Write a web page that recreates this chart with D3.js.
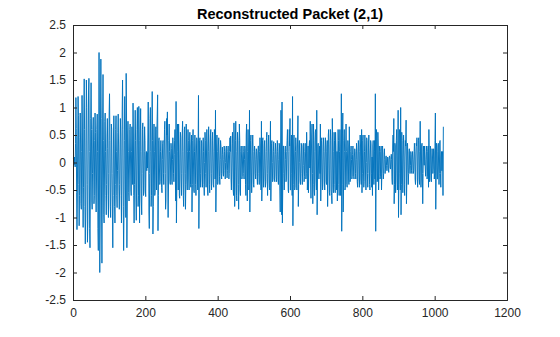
<!DOCTYPE html>
<html>
<head>
<meta charset="utf-8">
<script src="https://cdn.jsdelivr.net/npm/d3@7/dist/d3.min.js"></script>
<style>
  html, body { margin: 0; padding: 0; background: #fff; }
  svg { display: block; }
  text { font-family: "Liberation Sans", Arial, Helvetica, sans-serif; }
</style>
</head>
<body>
<svg id="chart" width="560" height="337"></svg>
<script>
// Reconstructed wavelet packet node (2,1), 1024 samples, in blocks of 128
const block0 = [
  0.08, 0.05, -0.04, 0.1, 0.02, -0.08, 0.35, 1.18, 0.62, -0.55, -1.22, -0.7, 0.3, 1.2, 0.85, -0.4,
  -1.15, -0.6, 0.45, 0.9, 0.3, -0.75, -0.85, 0.2, 1.22, 0.7, -0.5, -1.18, -0.45, 0.9, 1.52, 0.6,
  -0.8, -1.48, -0.9, 0.5, 1.5, 1.0, -0.4, -1.45, -1.1, 0.3, 1.3, 1.53, 0.2, -1.2, -1.55, -0.5,
  0.8, 1.45, 0.6, -0.7, -0.85, -0.2, 0.6, 0.82, 0.1, -0.75, -0.6, 0.4, 0.9, 0.55, -0.5, -0.9,
  -0.3, 0.6, 0.88, 0.2, -1.2, -1.6, 0.3, 2.0, 0.9, -2.0, -1.1, 0.7, 1.88, 0.8, -0.9, -1.83,
  -0.7, 0.9, 1.6, 0.4, -0.95, -1.1, -0.3, 0.75, 0.9, 0.2, -0.6, -0.95, -0.4, 0.5, 0.8, 0.25,
  -0.6, -1.0, -0.2, 0.9, 1.25, 0.4, -0.8, -1.0, -0.3, 0.7, 0.6, -0.2, -0.9, -1.55, -0.6, 0.5,
  0.85, 0.3, -0.8, -1.1, -0.4, 0.6, 0.85, 0.2, -0.6, -0.82, -0.15, 0.55, 0.88, 0.3, -0.5, -0.85
];
const block1 = [
  -0.4, 0.3, 0.8, 0.5, -0.6, -1.1, -0.3, 0.9, 1.5, 0.6, -0.8, -1.6, -0.9, 0.4, 1.2, 0.7,
  -0.5, -1.0, 1.62, 0.9, -1.55, -0.7, 0.5, 0.75, 0.2, -0.55, -0.7, -0.1, 0.6, 0.7, 0.1, -0.5,
  -0.6, 0.2, 0.65, 0.3, -0.4, 1.08, 0.5, -0.6, -1.1, -0.4, 0.5, 0.95, 0.4, -0.7, -1.05, -0.3,
  0.6, 1.0, 0.3, -0.8, -0.6, 1.02, 0.4, -1.1, -0.5, 0.5, 0.98, 0.2, -0.7, -0.95, -0.2, 0.6,
  0.72, 0.1, -0.6, -0.55, 0.2, 0.65, 0.4, -0.5, -0.62, 0.1, 0.2, -0.15, 0.18, -0.1, 0.5, 1.1,
  0.3, -0.9, -1.2, -0.2, 0.8, 1.0, 0.2, -0.8, -0.6, 0.5, 1.29, 0.4, -1.3, -0.8, 0.3, 0.7,
  0.2, -0.6, -0.55, 0.3, 0.65, 0.1, -0.5, 0.6, 0.9, 1.23, -1.24, -0.6, 0.4, 0.45, -0.1, -0.4,
  -0.35, 0.2, 0.4, 0.1, -0.45, -0.55, 0.05, 0.35, 0.4, -0.2, -0.4, 0.1, 0.6, 0.75, -0.2, -0.85
];
const block2 = [
  -0.7, 0.3, 0.8, 0.5, 0.92, -0.3, -1.0, -0.5, 0.4, 0.7, 0.2, -0.35, -0.4, 0.1, 0.35, 0.25,
  -0.3, -0.4, 0.05, 0.45, 0.3, -0.2, -0.35, 0.15, 0.4, 0.6, -0.3, -0.7, 1.11, -1.1, -0.5, 0.5,
  0.7, 0.2, -0.5, 0.7, 0.3, -0.6, -0.65, 0.1, 0.55, 0.45, -0.3, -0.6, -0.2, 0.5, 0.75, 0.2,
  -0.6, -0.8, -0.1, 0.6, 0.65, -0.2, -0.85, -0.4, 0.7, 0.5, -0.3, -0.5, 0.2, 0.6, 0.4, -0.3,
  -0.5, 0.2, 0.55, 0.3, -0.4, -0.45, 0.3, 0.5, -0.9, -0.4, 0.4, 0.6, 0.1, -0.5, -0.55, 0.2,
  0.5, 0.3, -0.4, -0.6, 0.1, 0.45, 0.4, -0.3, -0.5, 0.3, 1.22, -1.2, -0.5, 0.4, 0.45, -0.2,
  -0.45, -0.1, 0.4, 0.35, -0.3, -0.45, 0.1, 0.45, 0.2, -0.4, -0.6, 0.0, 0.55, 0.4, -0.2, -0.45,
  0.1, 0.6, 0.3, -0.5, -0.6, 0.2, 0.65, 0.3, -0.4, -0.55, 0.1, 0.5, 0.6, -0.2, -0.5, -0.3
];
const block3 = [
  0.4, 0.55, 0.1, -0.4, -0.45, 0.2, 0.6, 0.5, -0.3, 0.95, -0.9, -0.4, 0.3, 0.5, 0.2, -0.4,
  -0.35, 0.3, 0.45, 0.1, -0.25, -0.4, 0.05, 0.4, 0.3, -0.2, -0.3, 0.1, 0.28, 0.15, -0.2, -0.25,
  0.05, 0.3, 0.2, -0.15, -0.3, 0.0, 0.25, 0.3, -0.1, -0.28, -0.15, 0.2, 0.3, 0.1, -0.3, -0.2,
  0.2, 0.45, 0.2, 0.48, -0.3, -0.5, -0.1, 0.35, 0.55, 0.1, -0.5, -0.6, 0.72, 0.3, -0.8, -0.5,
  0.4, 0.75, 0.2, -0.6, -0.7, 0.1, 0.55, 0.4, -0.4, -0.85, -0.3, 0.7, 0.4, -0.5, -0.6, 0.2,
  0.3, 0.1, -0.3, -0.25, 0.1, 0.3, 0.2, -0.2, -0.3, 0.05, 0.3, 0.25, -0.4, -0.6, 0.5, 0.7,
  -0.3, -0.7, 0.2, 0.6, 0.3, -0.5, -0.4, 0.95, -0.9, -0.3, 0.4, 0.5, -0.1, -0.55, -0.3, 0.3,
  0.5, 0.2, -0.4, -0.45, 0.1, 0.3, 0.2, -0.2, -0.3, 0.05, 0.25, 0.2, -0.25, -0.4, 0.1, 0.3
];
const block4 = [
  0.3, -0.2, -0.4, 0.2, 0.45, 0.3, -0.3, -0.5, 0.75, -0.7, -0.3, 0.4, 0.45, -0.1, -0.45, -0.3,
  0.3, 0.4, -0.1, -0.45, -0.35, 0.2, 0.45, 0.55, -0.2, -0.6, -0.3, 0.3, 0.5, 0.1, -0.45, -0.5,
  0.2, 0.75, -0.7, -0.3, 0.35, 0.4, 0.0, -0.35, -0.3, 0.2, 0.38, 0.1, -0.3, -0.35, 0.15, 0.35,
  0.2, -0.25, -0.35, 0.1, 0.4, 0.2, -0.3, -0.4, 0.05, 0.35, 0.3, -0.5, -0.9, 0.3, 0.95, 0.5,
  -0.95, 1.1, -1.1, -0.4, 0.3, 0.3, -0.2, -0.5, -0.3, 0.2, 0.3, 0.05, -0.35, -0.3, 0.2, 0.4,
  0.6, 0.1, -0.5, -0.55, 0.2, 0.6, 0.3, 0.8, -0.5, -0.5, 0.3, 0.5, -0.2, -0.6, 1.2, -1.15,
  -0.4, 0.3, 0.5, 0.1, -0.5, -0.45, 0.2, 0.45, 0.3, -0.3, -0.5, 0.1, 0.5, 0.85, -0.8, -0.4,
  0.3, 0.4, 0.0, -0.35, -0.4, 0.1, 0.35, 0.3, -0.2, -0.4, -0.1, 0.3, 0.35, -0.05, -0.35, -0.25
];
const block5 = [
  0.2, 0.35, 0.1, -0.3, -0.2, 0.55, 0.2, -0.5, -0.3, 0.3, -0.55, -0.2, 0.3, 0.4, -0.1, 0.75,
  -0.3, -0.65, 0.1, 0.5, 0.7, -0.2, -0.75, -0.4, 0.7, 0.4, -0.5, -0.6, 0.2, 0.55, 0.6, -0.3,
  -0.5, 0.95, -0.95, -0.3, 0.3, 0.35, -0.1, -0.3, 0.1, 0.3, -0.2, 0.7, -0.7, -0.3, 0.4, 0.45,
  -0.1, -0.5, -0.4, 0.3, 0.45, 0.2, -0.3, -0.5, 0.1, 0.45, 0.3, -0.35, -0.4, 0.2, 0.4, -0.8,
  -0.3, 0.5, 0.6, 0.1, -0.55, -0.6, 0.3, 0.6, 0.4, -0.5, -0.6, -0.75, 0.8, 0.3, -0.4, -0.55,
  0.2, 0.55, 0.4, -0.4, -0.55, 0.55, 0.3, -0.3, -0.5, 0.2, -0.7, 0.1, 0.6, 0.4, -0.4, -0.6,
  0.2, 0.6, 0.3, -0.6, -0.3, 1.25, -1.25, -0.4, 0.5, 0.9, -0.9, -0.5, 0.4, 0.6, 0.2, -0.5,
  -0.45, 0.3, 0.7, 0.2, -0.4, -0.45, 0.1, 0.4, 0.3, -0.3, -0.4, 0.65, 0.1, -0.35, -0.3, 0.2
];
const block6 = [
  0.3, 0.05, -0.3, -0.25, 0.15, 0.3, 0.1, -0.25, -0.3, 0.1, 0.25, 0.2, -0.2, -0.3, 0.05, 0.35,
  0.2, -0.35, -0.45, 0.1, 0.4, 0.3, -0.3, -0.45, 0.2, 0.5, 0.3, -0.3, -0.4, 0.6, -0.55, -0.2,
  0.4, 0.5, -0.1, -0.45, -0.35, 0.2, 0.5, 0.3, -0.3, -0.5, 0.0, 0.45, 0.4, -0.2, -0.45, -0.2,
  0.3, 0.5, 0.1, -0.4, -0.5, 0.1, 0.4, 0.35, -0.2, -0.45, 0.1, -0.6, 0.3, 0.4, -0.1, -0.4,
  0.2, 0.4, -0.3, 1.25, -1.25, -0.3, 0.6, 0.5, -0.35, -0.3, 0.55, 0.3, -0.5, -0.2, 0.3, 0.2,
  -0.3, -0.25, 0.2, 0.3, -0.5, -0.2, 0.25, 0.3, -0.1, -0.3, -0.2, 0.15, 0.25, 0.05, -0.2, -0.1,
  0.1, 0.12, -0.05, -0.15, -0.05, 0.1, 0.08, -0.12, -0.18, 0.05, 0.12, 0.1, -0.1, -0.12, 0.05, 0.15,
  0.05, -0.3, -0.4, 0.3, 0.5, 0.2, 0.8, -0.75, -0.4, 0.35, 0.3, -0.55, -0.3, 0.4, 0.6, 0.1
];
const block7 = [
  -0.5, -0.3, 0.95, -1.0, -0.4, 0.5, 0.6, -0.2, -0.5, 1.0, -0.95, -0.4, 0.55, 0.4, -0.3, -0.55,
  0.1, 0.5, 0.3, -0.4, -0.6, 0.1, 0.4, 0.3, 0.77, -0.75, -0.3, 0.3, 0.35, -0.1, -0.4, -0.2,
  0.2, 0.25, -0.1, -0.2, -0.05, 0.2, 0.15, -0.15, -0.2, 0.1, 0.2, 0.05, -0.2, -0.15, 0.1, 0.35,
  0.2, -0.3, -0.4, 0.1, 0.35, 0.3, 0.45, -0.3, -0.45, 0.1, 0.4, 0.45, -0.3, -0.4, 0.2, 0.75,
  0.1, -0.45, -0.3, 0.3, 0.35, -0.2, -0.75, -0.2, 0.3, 0.2, -0.05, 0.3, 0.1, -0.1, -0.25, 0.05,
  0.3, 0.2, -0.3, -0.25, 0.2, 0.3, -0.45, 0.6, 0.1, -0.35, -0.2, 0.3, 0.25, -0.3, -0.35, 0.1,
  0.25, 0.1, -0.2, -0.1, 0.25, 0.2, -0.3, -0.2, 0.4, 0.9, -0.85, -0.3, 0.35, 0.3, -0.3, -0.3,
  0.2, 0.35, -0.1, -0.4, -0.2, 0.38, 0.4, -0.2, -0.45, 0.1, 0.2, -0.15, 0.1, 0.2, -0.6, 0.65
];

const xTicks = [0, 200, 400, 600, 800, 1000, 1200];
const yTicks = [-2.5, -2, -1.5, -1, -0.5, 0, 0.5, 1, 1.5, 2, 2.5];
const chartTitle = "Reconstructed Packet (2,1)";

const signal = [].concat(block0, block1, block2, block3, block4, block5, block6, block7);
const points = signal.map((v, i) => ({ n: i + 1, v }));

const svg = d3.select("#chart");
const margin = { left: 73, right: 53, top: 25, bottom: 37 };
const W = 560, H = 337;
const x = d3.scaleLinear().domain([0, 1200]).range([margin.left, W - margin.right]);
const y = d3.scaleLinear().domain([-2.5, 2.5]).range([H - margin.bottom, margin.top]);

const axisColor = "#262626";
const tickLen = 4;

// data line
const line = d3.line().x(d => x(d.n)).y(d => y(d.v));
svg.append("path")
  .datum(points)
  .attr("d", line)
  .attr("fill", "none")
  .attr("stroke", "#0072BD")
  .attr("stroke-width", 0.95)
  .attr("stroke-linejoin", "round");

// axes, ticks pointing inward, mirrored on the opposite sides
const gB = svg.append("g").attr("transform", `translate(0,${y(-2.5)})`)
  .call(d3.axisBottom(x).tickValues(xTicks).tickSize(-tickLen).tickPadding(8).tickFormat(d3.format("d")));
const gT = svg.append("g").attr("transform", `translate(0,${y(2.5)})`)
  .call(d3.axisTop(x).tickValues(xTicks).tickSize(-tickLen).tickFormat(""));
const gL = svg.append("g").attr("transform", `translate(${x(0)},0)`)
  .call(d3.axisLeft(y).tickValues(yTicks).tickSize(-tickLen).tickPadding(7).tickFormat(d => String(d)));
const gR = svg.append("g").attr("transform", `translate(${x(1200)},0)`)
  .call(d3.axisRight(y).tickValues(yTicks).tickSize(-tickLen).tickFormat(""));

[gB, gT, gL, gR].forEach(g => {
  g.select(".domain").attr("stroke", axisColor).attr("stroke-width", 1);
  g.selectAll(".tick line").attr("stroke", axisColor).attr("stroke-width", 1);
  g.selectAll(".tick text").attr("fill", axisColor).attr("font-size", 12)
    .attr("font-family", '"Liberation Sans", Arial, sans-serif');
});

svg.append("text")
  .attr("x", (x(0) + x(1200)) / 2)
  .attr("y", 19)
  .attr("text-anchor", "middle")
  .attr("font-weight", "bold")
  .attr("font-size", 14.5)
  .attr("fill", "#000")
  .text(chartTitle);
</script>
</body>
</html>
